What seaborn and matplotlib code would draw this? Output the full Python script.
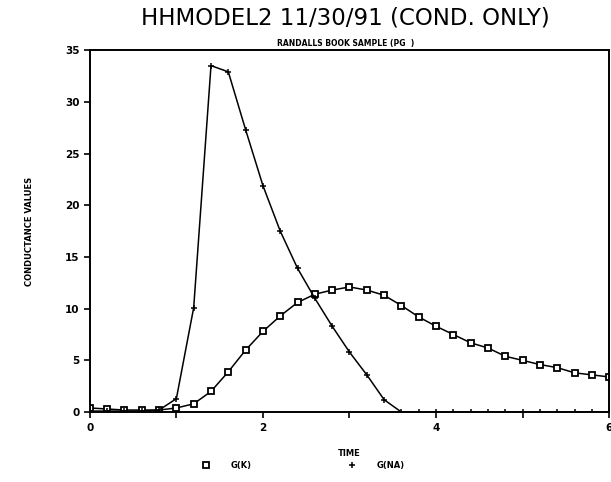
import pandas as pd
import seaborn as sns
import matplotlib.pyplot as plt

# time axis (ms) and the two conductance traces
time = [0.0, 0.2, 0.4, 0.6, 0.8, 1.0, 1.2, 1.4, 1.6, 1.8,
        2.0, 2.2, 2.4, 2.6, 2.8, 3.0, 3.2, 3.4, 3.6, 3.8,
        4.0, 4.2, 4.4, 4.6, 4.8, 5.0, 5.2, 5.4, 5.6, 5.8, 6.0]
g_k = [0.4, 0.3, 0.2, 0.2, 0.2, 0.4, 0.8, 2.0, 3.9, 6.0,
       7.8, 9.3, 10.6, 11.4, 11.8, 12.1, 11.8, 11.3, 10.3, 9.2,
       8.3, 7.5, 6.7, 6.2, 5.4, 5.0, 4.6, 4.3, 3.8, 3.6, 3.4]
g_na = [0.1, 0.1, 0.1, 0.1, 0.2, 1.3, 10.1, 33.5, 32.9, 27.3,
        21.9, 17.5, 13.9, 11.0, 8.3, 5.8, 3.6, 1.2, 0.0, 0.0,
        0.0, 0.0, 0.0, 0.0, 0.0, 0.0, 0.0, 0.0, 0.0, 0.0, 0.0]

x_ticks = [0, 1, 2, 3, 4, 5, 6]
x_labels = ["0", "", "2", "", "4", "", "6"]
y_ticks = [0, 5, 10, 15, 20, 25, 30, 35]

df = pd.DataFrame({"time": time, "G(K)": g_k, "G(NA)": g_na})

sns.set_style("ticks")
plt.rcParams["font.family"] = ["DejaVu Sans"]
plt.rcParams["text.color"] = "black"
plt.rcParams["xtick.color"] = "black"
plt.rcParams["ytick.color"] = "black"
plt.rcParams["axes.labelcolor"] = "black"
plt.rcParams["axes.edgecolor"] = "black"

fig = plt.figure(figsize=(6.11, 4.82), dpi=100)
ax = fig.add_axes([0.147, 0.145, 0.85, 0.751])

sns.lineplot(data=df, x="time", y="G(K)", ax=ax, color="black", lw=1.1,
             marker="s", markersize=4.5, markerfacecolor="white",
             markeredgecolor="black", markeredgewidth=1.3, label="G(K)")
sns.lineplot(data=df, x="time", y="G(NA)", ax=ax, color="black", lw=1.1,
             marker="+", markersize=5, markeredgecolor="black",
             markeredgewidth=1.1, label="G(NA)")

ax.set_xlim(0, 6)
ax.set_ylim(0, 35)
ax.set_xticks(x_ticks)
ax.set_xticklabels(x_labels)
ax.set_yticks(y_ticks)
ax.tick_params(labelsize=7.5, width=1.2, length=4, direction="out")
for lab in ax.get_xticklabels() + ax.get_yticklabels():
    lab.set_fontweight("bold")
for sp in ax.spines.values():
    sp.set_visible(True)
    sp.set_linewidth(1.4)

ax.set_xlabel("TIME", fontsize=6, fontweight="bold", labelpad=12)
ax.set_ylabel("CONDUCTANCE VALUES", fontsize=6, fontweight="bold", labelpad=22)

fig.text(0.565, 0.962, "HHMODEL2 11/30/91 (COND. ONLY)", ha="center",
         va="center", fontsize=16.5)
fig.text(0.565, 0.91, "RANDALLS BOOK SAMPLE (PG  )", ha="center",
         va="center", fontsize=5.5, fontweight="bold")

ax.get_legend().remove()
handles, labels = ax.get_legend_handles_labels()
fig.legend(handles, labels, loc="center", bbox_to_anchor=(0.5, 0.035),
           ncol=2, frameon=False, columnspacing=12,
           handlelength=0, handletextpad=3,
           prop={"weight": "bold", "size": 6})

fig.savefig("out.png", dpi=100)
